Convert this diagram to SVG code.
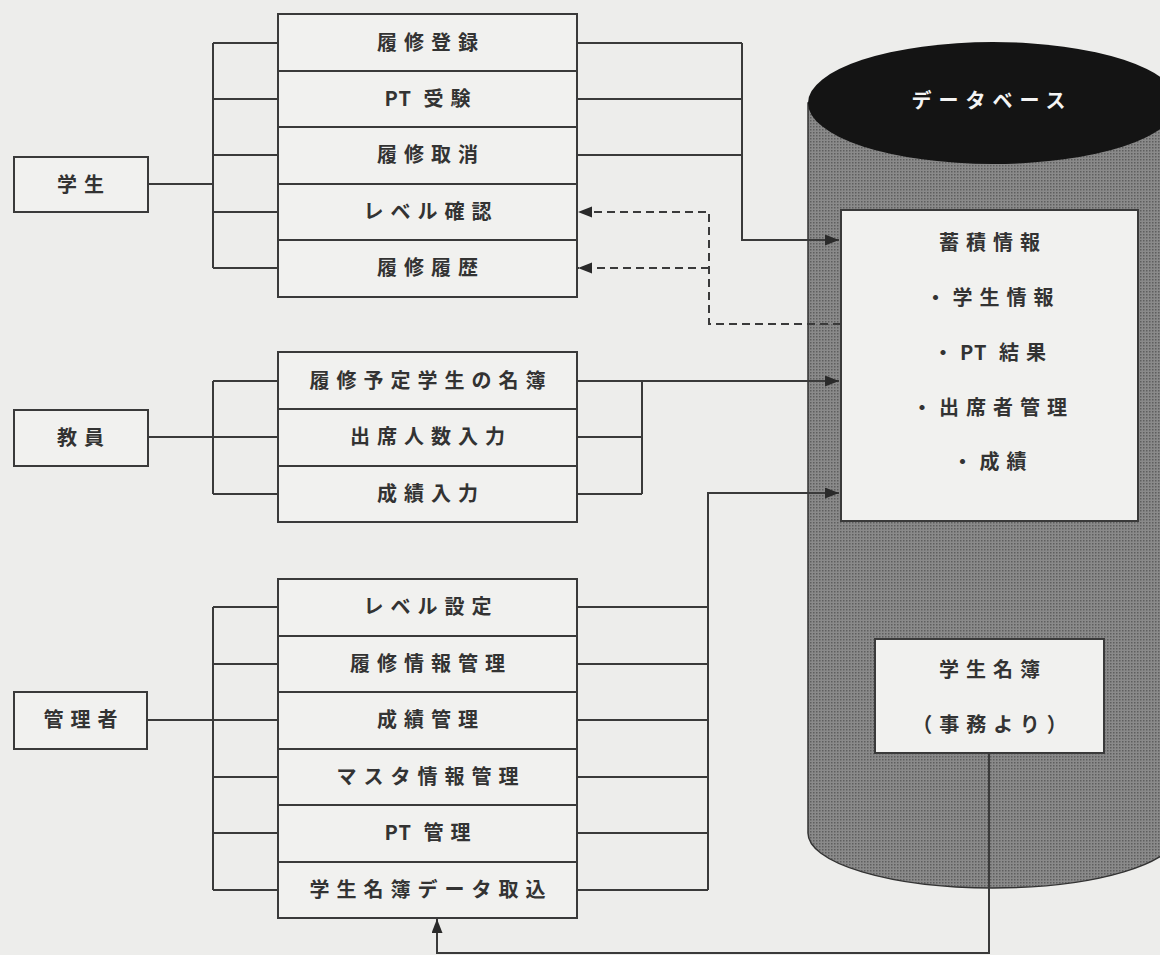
<svg xmlns="http://www.w3.org/2000/svg" width="1160" height="955" viewBox="0 0 1160 955">
<style>
.bg{fill:#ededeb}
.box{fill:#f1f1ef;stroke:#3a3a3a;stroke-width:2}
.t{font-family:"Noto Sans CJK JP","Noto Sans CJK SC",sans-serif;font-size:20px;font-weight:bold;fill:#333;text-anchor:middle;letter-spacing:7px}
.l{letter-spacing:1px}
.tw{fill:#f4f4f4}
.ln{fill:none;stroke:#3a3a3a;stroke-width:2}
.dash{fill:none;stroke:#3a3a3a;stroke-width:2;stroke-dasharray:8 5}
</style>
<defs>
<marker id="ah" markerUnits="userSpaceOnUse" markerWidth="16" markerHeight="12" refX="14" refY="5.5" orient="auto">
<path d="M0,0 L14,5.5 L0,11 z" fill="#2a2a2a"/>
</marker>
<pattern id="dots" width="3" height="3" patternUnits="userSpaceOnUse">
<rect width="3" height="3" fill="#8a8a8a"/>
<rect width="1.5" height="1.5" fill="#5e5e5e"/>
</pattern>
</defs>
<rect class="bg" width="1160" height="955"/>

<g id="database">
<path d="M808,103 L808,833 A185,55 0 0 0 1178,833 L1178,103 Z" fill="url(#dots)" stroke="#333" stroke-width="1.5"/>
<ellipse cx="993" cy="103" rx="185" ry="61" fill="#141414"/>
<text class="t tw" x="992" y="108">データベース</text>
</g>

<g id="connectors">
<path class="ln" d="M148,184 H213 M213,43 V268 M213,43 H278 M213,99 H278 M213,155 H278 M213,212 H278 M213,268 H278"/>
<path class="ln" d="M577,43 H742 M577,99 H742 M577,155 H742 M742,43 V240 H839" marker-end="url(#ah)"/>
<path class="dash" d="M841,324 H709 V212 H578" marker-end="url(#ah)"/>
<path class="dash" d="M709,268 H578" marker-end="url(#ah)"/>
<path class="ln" d="M148,437 H278 M213,381 V494 M213,381 H278 M213,494 H278"/>
<path class="ln" d="M577,437 H642 M577,494 H642 M642,381 V494 M577,381 H839" marker-end="url(#ah)"/>
<path class="ln" d="M147,720 H278 M213,607 V890 M213,607 H278 M213,664 H278 M213,777 H278 M213,833 H278 M213,890 H278"/>
<path class="ln" d="M577,607 H708 M577,664 H708 M577,720 H708 M577,777 H708 M577,833 H708 M577,890 H708 M708,890 V493 H839" marker-end="url(#ah)"/>
<path class="ln" d="M989,753 V953 H437 V919" marker-end="url(#ah)"/>
</g>

<g id="student">
<rect class="box" x="14" y="157" width="134" height="55"/>
<text class="t" x="84" y="192">学生</text>
</g>
<g id="teacher">
<rect class="box" x="14" y="410" width="134" height="56"/>
<text class="t" x="84" y="445">教員</text>
</g>
<g id="admin">
<rect class="box" x="14" y="692" width="133" height="57"/>
<text class="t" x="84" y="727">管理者</text>
</g>

<g id="s1"><rect class="box" x="278" y="14" width="299" height="57"/><text class="t" x="431" y="50">履修登録</text></g>
<g id="s2"><rect class="box" x="278" y="71" width="299" height="56"/><text class="t" x="431" y="106"><tspan class="l">PT</tspan> 受験</text></g>
<g id="s3"><rect class="box" x="278" y="127" width="299" height="57"/><text class="t" x="431" y="162">履修取消</text></g>
<g id="s4"><rect class="box" x="278" y="184" width="299" height="56"/><text class="t" x="431" y="219">レベル確認</text></g>
<g id="s5"><rect class="box" x="278" y="240" width="299" height="57"/><text class="t" x="431" y="275">履修履歴</text></g>

<g id="t1"><rect class="box" x="278" y="352" width="299" height="57"/><text class="t" x="431" y="388">履修予定学生の名簿</text></g>
<g id="t2"><rect class="box" x="278" y="409" width="299" height="57"/><text class="t" x="431" y="444">出席人数入力</text></g>
<g id="t3"><rect class="box" x="278" y="466" width="299" height="56"/><text class="t" x="431" y="501">成績入力</text></g>

<g id="a1"><rect class="box" x="278" y="579" width="299" height="57"/><text class="t" x="431" y="614">レベル設定</text></g>
<g id="a2"><rect class="box" x="278" y="636" width="299" height="56"/><text class="t" x="431" y="671">履修情報管理</text></g>
<g id="a3"><rect class="box" x="278" y="692" width="299" height="57"/><text class="t" x="431" y="727">成績管理</text></g>
<g id="a4"><rect class="box" x="278" y="749" width="299" height="56"/><text class="t" x="431" y="784">マスタ情報管理</text></g>
<g id="a5"><rect class="box" x="278" y="805" width="299" height="57"/><text class="t" x="431" y="840"><tspan class="l">PT</tspan> 管理</text></g>
<g id="a6"><rect class="box" x="278" y="862" width="299" height="56"/><text class="t" x="431" y="897">学生名簿データ取込</text></g>

<g id="stored">
<rect class="box" x="841" y="210" width="297" height="311"/>
<text class="t" x="993" y="250">蓄積情報</text>
<text class="t" x="993" y="305">・学生情報</text>
<text class="t" x="993" y="360">・<tspan class="l">PT</tspan> 結果</text>
<text class="t" x="993" y="415">・出席者管理</text>
<text class="t" x="993" y="469">・成績</text>
</g>

<g id="roster">
<rect class="box" x="875" y="639" width="229" height="114"/>
<text class="t" x="993" y="677">学生名簿</text>
<text class="t" x="993" y="732">（事務より）</text>
</g>
</svg>
